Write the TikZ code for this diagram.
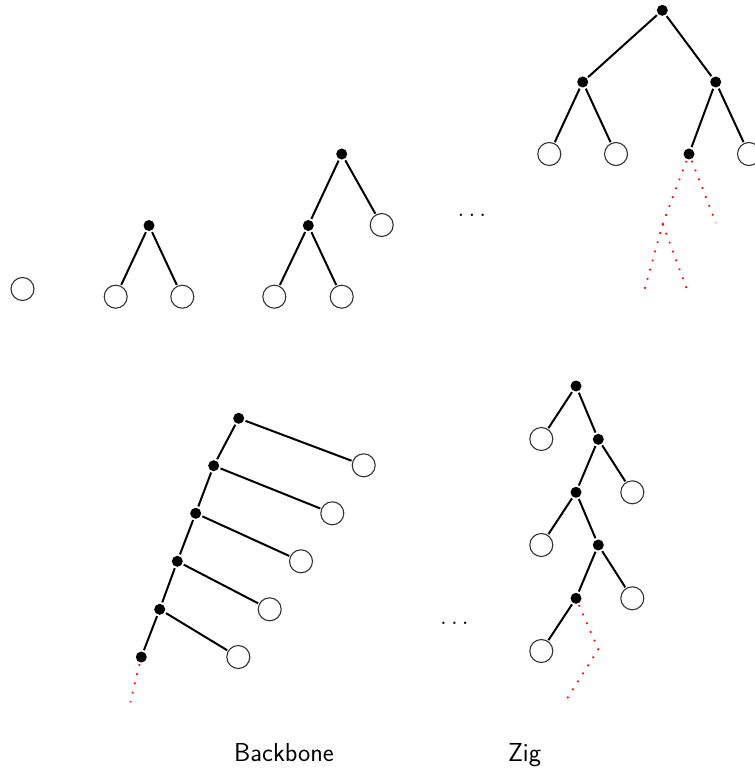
\documentclass[tikz,border=0pt]{standalone}
\usepackage{fontspec}
\begin{document}
\begin{tikzpicture}[x=1pt,y=-1pt,
  leaf/.style={circle,draw=black!80,line width=1.1pt,minimum size=23pt,inner sep=0pt,outer sep=1.5pt},
  dot/.style={circle,fill=black,minimum size=11pt,inner sep=0pt,outer sep=1.8pt},
  edge/.style={line width=2pt},
  reddots/.style={red,line width=1.7pt,dash pattern=on 1.7pt off 7.8pt},
  lbl/.style={font=\fontsize{26}{31}\selectfont\sffamily,anchor=base,inner sep=0pt}]
\useasboundingbox (0,0) rectangle (754,770);
% tree 1
\node[leaf] (a1) at (22.5,289) {};
% tree 2
\node[dot] (b0) at (149,225.5) {};
\node[leaf] (b1) at (115.7,296.7) {};
\node[leaf] (b2) at (182.3,296.7) {};
\draw[edge] (b0) -- (b1);
\draw[edge] (b0) -- (b2);
% tree 3
\node[dot] (c0) at (341.7,154) {};
\node[dot] (c1) at (308.3,225.5) {};
\node[leaf] (c2) at (381.7,225) {};
\node[leaf] (c3) at (274.3,296.7) {};
\node[leaf] (c4) at (341.7,296.7) {};
\draw[edge] (c0) -- (c1);
\draw[edge] (c0) -- (c2);
\draw[edge] (c1) -- (c3);
\draw[edge] (c1) -- (c4);
% dots
\node[lbl] (dt1) at (472,216) {$\ldots$};
% tree 4
\node[dot] (d0) at (662.3,10.3) {};
\node[dot] (d1) at (582.7,82) {};
\node[dot] (d2) at (715.7,82) {};
\node[leaf] (d3) at (549.3,154) {};
\node[leaf] (d4) at (616,154) {};
\node[dot] (d5) at (689,154) {};
\node[leaf] (d6) at (749,154) {};
\draw[edge] (d0) -- (d1);
\draw[edge] (d0) -- (d2);
\draw[edge] (d1) -- (d3);
\draw[edge] (d1) -- (d4);
\draw[edge] (d2) -- (d5);
\draw[edge] (d2) -- (d6);
\coordinate (r1) at (662.7,224);
\coordinate (r2) at (643,295);
\coordinate (r3) at (689,295);
\coordinate (r4) at (716,223);
\draw[reddots] (d5) -- (r1) -- (r2);
\draw[reddots] (r1) -- (r3);
\draw[reddots] (d5) -- (r4);
% backbone
\node[dot] (e1) at (238.7,418.3) {};
\node[dot] (e2) at (213.7,465.7) {};
\node[dot] (e3) at (195.7,513.3) {};
\node[dot] (e4) at (177.3,561.3) {};
\node[dot] (e5) at (159.7,609.3) {};
\node[dot] (e6) at (141.3,657) {};
\node[leaf] (f1) at (363.7,465.3) {};
\node[leaf] (f2) at (332.3,513.3) {};
\node[leaf] (f3) at (301,561.3) {};
\node[leaf] (f4) at (269.7,609.3) {};
\node[leaf] (f5) at (238.3,657) {};
\draw[edge] (e1) -- (e2);
\draw[edge] (e2) -- (e3);
\draw[edge] (e3) -- (e4);
\draw[edge] (e4) -- (e5);
\draw[edge] (e5) -- (e6);
\draw[edge] (e1) -- (f1);
\draw[edge] (e2) -- (f2);
\draw[edge] (e3) -- (f3);
\draw[edge] (e4) -- (f4);
\draw[edge] (e5) -- (f5);
\coordinate (r5) at (130.3,702.3);
\draw[reddots] (e6) -- (r5);
% dots bottom
\node[lbl] (dt2) at (454.5,624) {$\ldots$};
% zig
\node[dot] (g1) at (576,386) {};
\node[dot] (g2) at (598.3,439.3) {};
\node[dot] (g3) at (576,492.3) {};
\node[dot] (g4) at (598.3,545) {};
\node[dot] (g5) at (576,598.3) {};
\node[leaf] (h1) at (541.3,439) {};
\node[leaf] (h2) at (632.3,492.3) {};
\node[leaf] (h3) at (541.3,545) {};
\node[leaf] (h4) at (632.3,598.3) {};
\node[leaf] (h5) at (541.3,651) {};
\draw[edge] (g1) -- (h1);
\draw[edge] (g1) -- (g2);
\draw[edge] (g2) -- (g3);
\draw[edge] (g2) -- (h2);
\draw[edge] (g3) -- (h3);
\draw[edge] (g3) -- (g4);
\draw[edge] (g4) -- (g5);
\draw[edge] (g4) -- (h4);
\draw[edge] (g5) -- (h5);
\coordinate (r6) at (598.3,649.3);
\coordinate (r7) at (564.7,702.3);
\draw[reddots] (g5) -- (r6) -- (r7);
% labels
\node[lbl] (l1) at (284,761.5) {Backbone};
\node[lbl] (l2) at (524.5,761.5) {Zig};
\end{tikzpicture}
\end{document}
